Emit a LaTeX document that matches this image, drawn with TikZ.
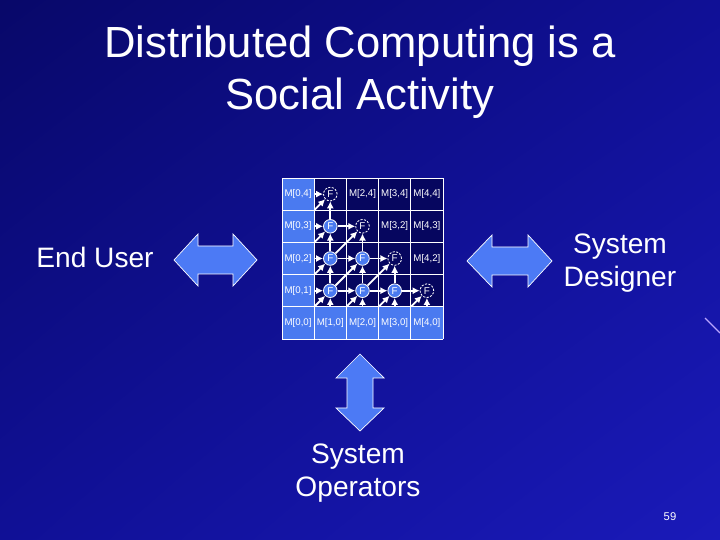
\documentclass[tikz,border=0pt]{standalone}
\usepackage{fontspec}
\setmainfont{Liberation Sans}
\usetikzlibrary{arrows.meta,shadings}

\definecolor{bgdark}{RGB}{8,8,105}
\definecolor{bgmid}{RGB}{16,16,150}
\definecolor{bglight}{RGB}{26,26,185}
\definecolor{cellhi}{RGB}{74,122,240}
\definecolor{celllo}{RGB}{6,6,95}
\definecolor{arrowblue}{RGB}{76,122,245}
\definecolor{streak}{RGB}{185,165,255}

\tikzset{
	cell/.style={rectangle, minimum size=0.805cm, inner sep=0pt, text=white, font=\fontsize{6.9}{7}\selectfont},
	fnode/.style={circle, draw=white, fill=cellhi, line width=0.6pt, minimum size=0.34cm, inner sep=0pt, text=white, font=\fontsize{7}{7}\selectfont},
	fghost/.style={fnode, fill=none, dash pattern=on 1.5pt off 1pt},
	flow/.style={-{Latex[length=5pt,width=5pt]}, white, line width=1.3pt},
	blockarrow/.style={fill=arrowblue, draw=white, line width=0.5pt, line join=miter},
	label/.style={text=white, align=center, font=\fontsize{20}{23}\selectfont}
}

\begin{document}
\begin{tikzpicture}
	\useasboundingbox (0,0) rectangle (18,13.5);
	\shade[upper left=bgdark, upper right=bgmid, lower left=bgmid, lower right=bglight] (0,0) rectangle (18,13.5);
	\draw[streak, line width=0.8pt] (17.625,5.55) -- (18,5.175);

	\node[text=white, align=center, font=\fontsize{31}{37}\selectfont] (title) at (9,11.7) {Distributed Computing is a\\Social Activity};

	% matrix of cells
	\begin{scope}[shift={(7.05cm,5.025cm)}, x=0.805cm, y=0.805cm]
		\fill[celllo] (1,1) rectangle (5,5);
		\fill[cellhi] (0,0) rectangle (5,1);
		\fill[cellhi] (0,0) rectangle (1,5);
		\foreach \k in {0,...,5}{
			\draw[white, line width=0.7pt] (\k,0) -- (\k,5);
			\draw[white, line width=0.7pt] (0,\k) -- (5,\k);
		}

		\foreach \j in {0,...,4}
			\node[cell] (n-0-\j) at (0.5,\j+0.5) {M[0,\j]};
		\foreach \i in {1,...,4}
			\node[cell] (n-\i-0) at (\i+0.5,0.5) {M[\i,0]};

		\node[cell] (m-2-4) at (2.5,4.5) {M[2,4]};
		\node[cell] (m-3-4) at (3.5,4.5) {M[3,4]};
		\node[cell] (m-4-4) at (4.5,4.5) {M[4,4]};
		\node[cell] (m-3-3) at (3.5,3.5) {M[3,2]};
		\node[cell] (m-4-3) at (4.5,3.5) {M[4,3]};
		\node[cell] (m-4-2) at (4.5,2.5) {M[4,2]};

		\foreach \i/\j in {1/1,1/2,1/3,2/1,2/2,3/1}
			\node[fnode] (n-\i-\j) at (\i+0.5,\j+0.5) {F};
		\foreach \i/\j in {1/4,2/3,3/2,4/1}
			\node[fghost] (n-\i-\j) at (\i+0.5,\j+0.5) {F};

		\foreach \i/\j in {1/1,1/2,1/3,1/4,2/1,2/2,2/3,3/1,3/2,4/1}{
			\pgfmathtruncatemacro{\a}{\i-1}
			\pgfmathtruncatemacro{\b}{\j-1}
			\draw[flow] (n-\a-\j) -- (n-\i-\j);
			\draw[flow] (n-\i-\b) -- (n-\i-\j);
			\draw[flow] (n-\a-\b) -- (n-\i-\j);
		}
	\end{scope}

	% block arrows
	\filldraw[blockarrow] (4.35,7) -- (4.95,7.65) -- (4.95,7.35) -- (5.825,7.35) -- (5.825,7.65) -- (6.425,7)
		-- (5.825,6.35) -- (5.825,6.65) -- (4.95,6.65) -- (4.95,6.35) -- cycle;
	\filldraw[blockarrow] (11.675,6.975) -- (12.3,7.625) -- (12.3,7.325) -- (13.2,7.325) -- (13.2,7.625) -- (13.8,6.975)
		-- (13.2,6.325) -- (13.2,6.625) -- (12.3,6.625) -- (12.3,6.325) -- cycle;
	\filldraw[blockarrow] (9,4.65) -- (9.6,4.05) -- (9.325,4.05) -- (9.325,3.3) -- (9.6,3.3) -- (9,2.725)
		-- (8.4,3.3) -- (8.675,3.3) -- (8.675,4.05) -- (8.4,4.05) -- cycle;

	\node[label] (user) at (2.375,7.075) {End User};
	\node[label] (designer) at (15.5,6.925) {System\\Designer};
	\node[label] (operators) at (8.95,1.675) {System\\Operators};

	\node[text=white, font=\fontsize{8}{9}\selectfont] (page) at (16.75,0.575) {59};
\end{tikzpicture}
\end{document}
